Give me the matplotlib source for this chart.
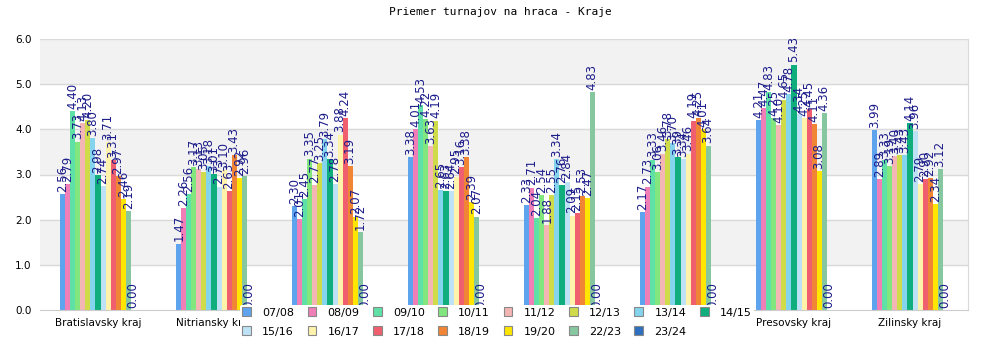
import numpy as np
import matplotlib
matplotlib.use("Agg")
import matplotlib.pyplot as plt
from matplotlib.patches import Patch

# regions and seasons
kraje = ["Bratislavsky kraj", "Nitriansky kraj", "Trenciansky kraj", "Trnavsky kraj",
         "Banskobystricky kraj", "Kosicky kraj", "Presovsky kraj", "Zilinsky kraj"]
sezony = ["07/08", "08/09", "09/10", "10/11", "11/12", "12/13", "13/14", "14/15",
          "15/16", "16/17", "17/18", "18/19", "19/20", "22/23", "23/24"]

# average tournaments per player, one list per region (season order as above)
bratislavsky = [2.56, 2.79, 4.40, 3.73, 4.13, 4.20, 3.80, 2.98, 2.74, 3.71, 3.31, 2.97, 2.46, 2.19, 0.00]
nitriansky = [1.47, 2.26, 2.56, 3.17, 3.13, 3.05, 3.18, 3.01, 2.73, 3.10, 2.63, 3.43, 2.92, 2.96, 0.00]
trenciansky = [2.30, 2.01, 2.45, 3.35, 2.77, 3.25, 3.79, 3.34, 2.78, 3.88, 4.24, 3.19, 2.07, 1.72, 0.00]
trnavsky = [3.38, 4.01, 4.53, 4.22, 3.63, 4.19, 2.65, 2.63, 2.64, 2.95, 3.16, 3.38, 2.39, 2.07, 0.00]
banskobystricky = [2.33, 2.71, 2.04, 2.54, 1.88, 2.55, 3.34, 2.76, 2.84, 2.09, 2.15, 2.53, 2.47, 4.83, 0.00]
kosicky = [2.17, 2.73, 3.33, 3.06, 3.46, 3.78, 3.70, 3.39, 3.34, 3.46, 4.19, 4.25, 4.01, 3.64, 0.00]
presovsky = [4.21, 4.47, 4.83, 4.25, 4.10, 4.65, 4.78, 5.43, 4.34, 4.25, 4.45, 4.11, 3.08, 4.36, 0.00]
zilinsky = [3.99, 2.89, 3.33, 3.19, 3.40, 3.43, 3.43, 4.14, 3.96, 2.79, 2.90, 2.92, 2.34, 3.12, 0.00]

farby = ["#5ea3ee", "#f07fb8", "#5fe0a6", "#82e67e", "#f4b6b4", "#cfdb48", "#84d4ee", "#0fae7c",
         "#bde2f6", "#fff2aa", "#ef5f6e", "#ef8535", "#ffe600", "#86c7a0", "#2f6fbf"]

data = np.array([bratislavsky, nitriansky, trenciansky, trnavsky,
                 banskobystricky, kosicky, presovsky, zilinsky])

fig = plt.figure(figsize=(10, 3.5), dpi=100)
ax = fig.add_axes([0.04, 40 / 350, 0.928, 271 / 350])

# alternating background bands
for lo in (1, 3, 5):
    ax.axhspan(lo, lo + 1, color="#f2f2f2", zorder=0)
for y in range(1, 7):
    ax.axhline(y, color="#d9d9d9", lw=1, zorder=0.5)

x = np.arange(len(kraje))
n = len(sezony)
w = 0.65 / n
for i, s in enumerate(sezony):
    pos = x + (i - (n - 1) / 2) * w
    vals = data[:, i]
    ax.bar(pos, vals, width=w, color=farby[i], zorder=2, linewidth=0)
    for px, v in zip(pos, vals):
        ax.text(px, v + 0.05, "%.2f" % v, rotation=90, ha="center", va="bottom",
                fontsize=8.5, color="#1c1c8a", zorder=3)

ax.set_xlim(-0.5, len(kraje) - 0.5)
ax.set_ylim(0, 6)
ax.set_yticks(np.arange(0, 6.1, 1))
ax.set_yticklabels(["%.1f" % t for t in np.arange(0, 6.1, 1)], fontsize=7.5)
ax.set_xticks(x)
ax.set_xticklabels(kraje, fontsize=7.5)
ax.tick_params(length=0, pad=6)
for sp in ["top", "left"]:
    ax.spines[sp].set_visible(False)
ax.spines["right"].set_color("#d9d9d9")
ax.spines["bottom"].set_color("#cccccc")

fig.text(0.5, 1 - 12 / 350, "Priemer turnajov na hraca - Kraje", ha="center", va="center",
         fontsize=8, family="DejaVu Sans Mono")

# legend filled row by row: 8 seasons on top, 7 below
ncol = 8
order = []
for c in range(ncol):
    order.append(c)
    if c + ncol < n:
        order.append(c + ncol)
handles = [Patch(facecolor=farby[k], edgecolor="#888888", linewidth=0.8) for k in order]
labels = [sezony[k] for k in order]
leg = fig.legend(handles, labels, ncol=ncol, loc="center", bbox_to_anchor=(497 / 1000, 1 - 322 / 350),
                 fontsize=8, frameon=True, handlelength=0.8, handleheight=0.8,
                 columnspacing=1.2, handletextpad=1.0, borderpad=0.2, labelspacing=0.8)
leg.get_frame().set_edgecolor("none")
leg.get_frame().set_facecolor("white")
leg.get_frame().set_alpha(1)
leg.set_zorder(10)

fig.savefig("out.png", dpi=100)
